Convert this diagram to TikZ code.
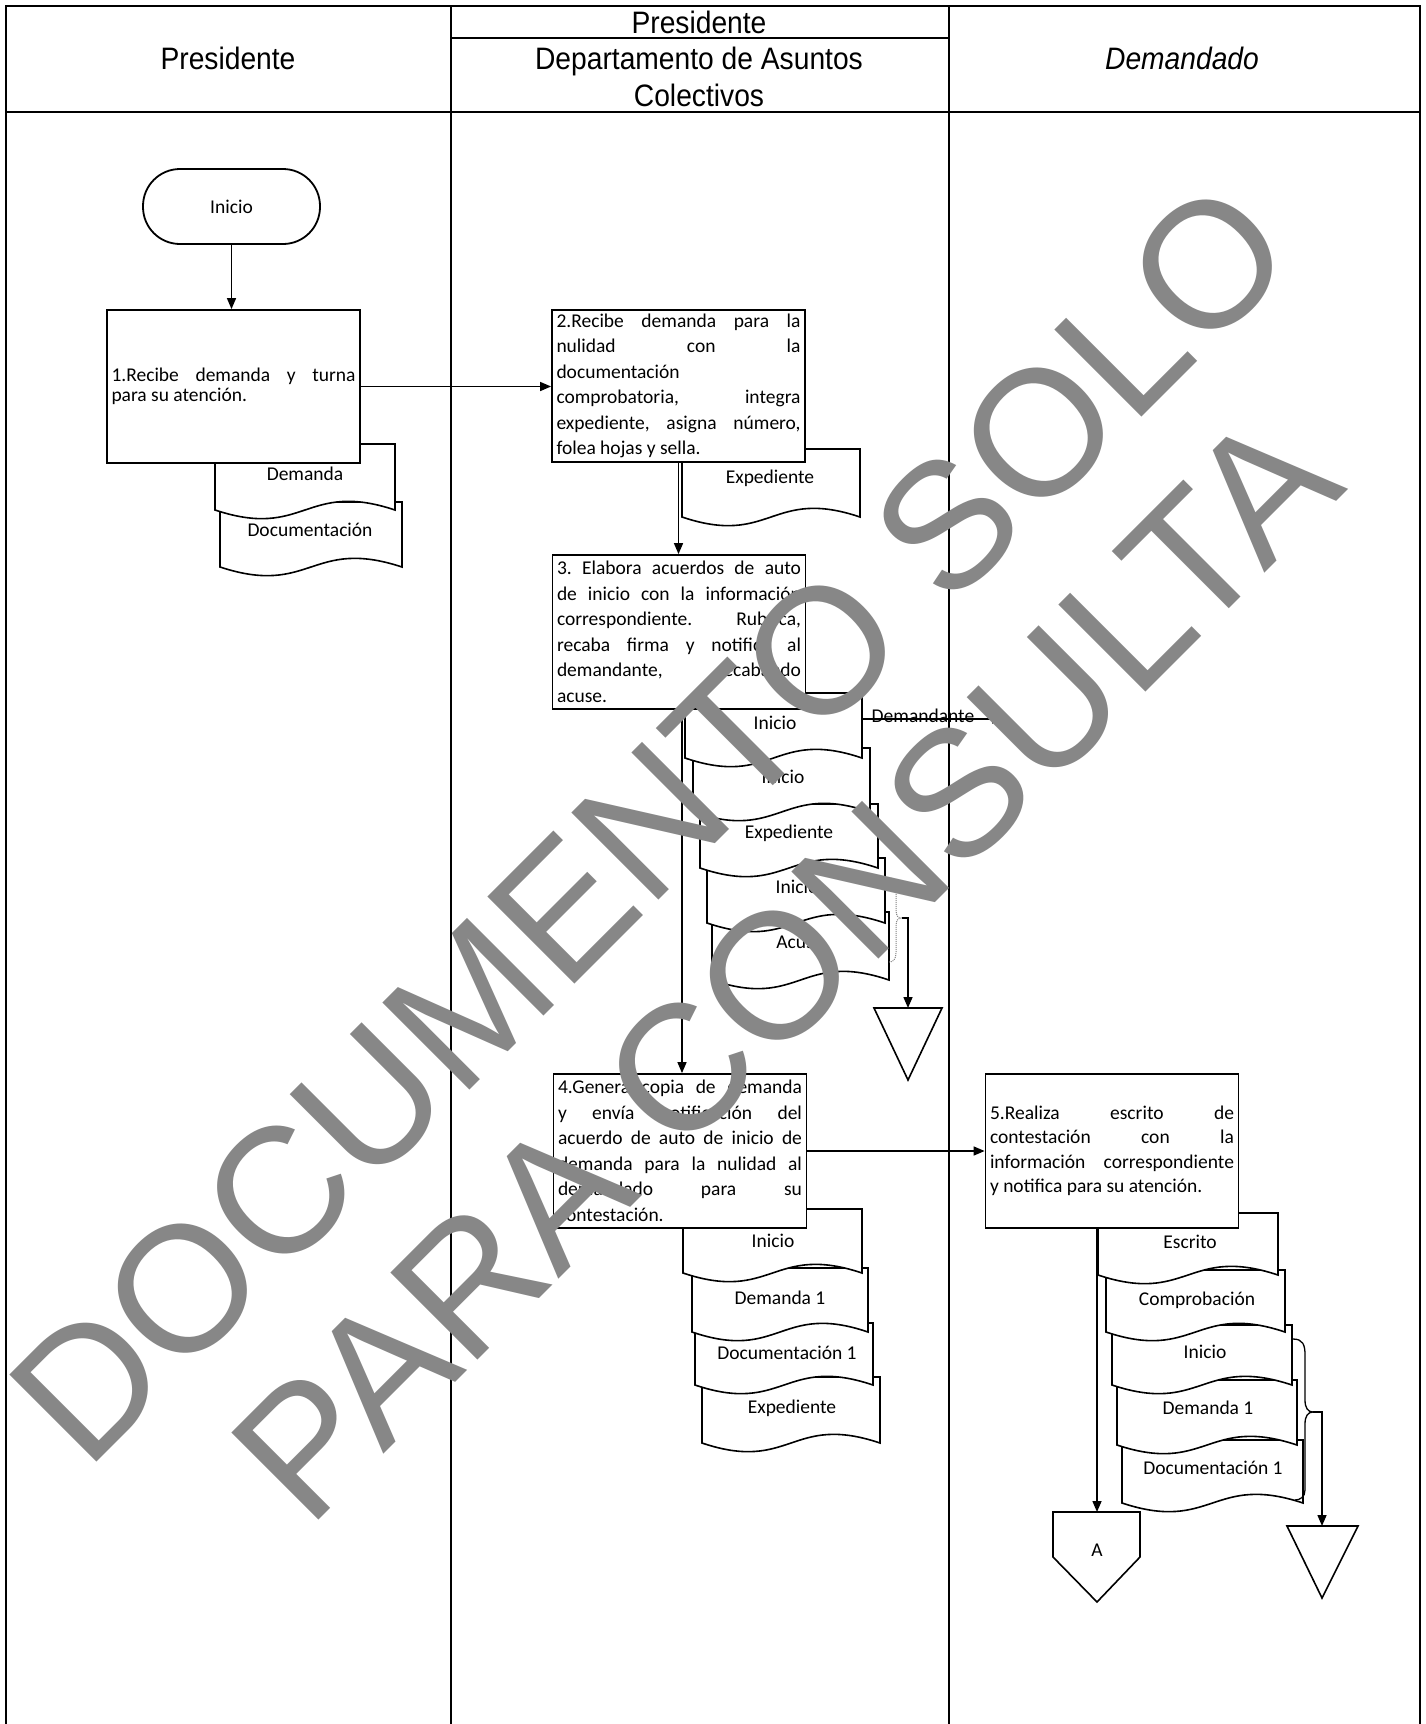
\documentclass[tikz,border=0pt]{standalone}
\usepackage{fontspec}
\setmainfont{Carlito}
\newfontfamily\hdfont{Liberation Sans}[FakeStretch=0.91]
\newfontfamily\wmfont{Liberation Sans}
\usetikzlibrary{arrows.meta}
\definecolor{wm}{RGB}{135,135,135}
\newcommand\jl[1]{\makebox[244pt][s]{\frenchspacing\spaceskip=\fontdimen2\font plus 30em\relax #1}}
\newcommand\lft[1]{\makebox[244pt][l]{\frenchspacing\spaceskip=\fontdimen2\font\relax #1}}
\tikzset{
  lane/.style={line width=1.3pt},
  proc/.style={draw, line width=1.8pt, fill=white, inner sep=0pt, minimum width=253pt,
    align=left, minimum height=153pt, font=\fontsize{19.5}{25.5}\selectfont},
  docsh/.style={draw, line width=1.6pt, fill=white},
  lbl/.style={font=\fontsize{19.5}{23}\selectfont, inner sep=0pt},
  flow/.style={line width=1.5pt, -{Triangle[length=11pt,width=9pt]}},
  hd/.style={font=\hdfont\fontsize{31}{37}\selectfont, align=center, inner sep=0pt},
  wmtext/.style={rotate=45, text=wm, font=\wmfont\fontsize{179}{179}\selectfont, inner sep=0pt},
}
% document shape: left, top, right, bottom
\newcommand\docpath[4]{%
  \draw[docsh] (#1,#2) -- (#3,#2) -- (#3,#4)
    .. controls ({(#1+#3)/2},{#4-30}) and ({(#1+#3)/2},{#4+30}) .. (#1,#4) -- cycle;}
\begin{document}
\begin{tikzpicture}[x=1pt,y=-1pt]
\fill[white] (0,0) rectangle (1426,1724);
\useasboundingbox (0,0) rectangle (1426,1724);

% swimlanes
\draw[lane] (6,1724) -- (6,6) -- (1420,6) -- (1420,1724);
\draw[lane] (451,6) -- (451,1724);
\draw[lane] (949,6) -- (949,1724);
\draw[lane] (6,112) -- (1420,112);
\draw[lane] (451,38) -- (949,38);
\node[hd] (h1) at (228,58) {Presidente};
\node[hd] (h2) at (699,22) {Presidente};
\node[hd] (h3) at (699,77) {Departamento de Asuntos\\Colectivos};
\node[hd, font=\hdfont\itshape\fontsize{31}{37}\selectfont] (h4) at (1182,58) {Demandado};

% documents (drawn from last to first so earlier ones lie on top)
\docpath{220}{502}{402}{567}
\node[lbl] (dl2) at (310,530) {Documentación};
\docpath{215}{444}{395}{510}
\node[lbl] (dl1) at (305,474) {Demanda};

\docpath{682}{449}{860}{517}
\node[lbl] (de1) at (770,478) {Expediente};

\docpath{712}{912}{889}{980}
\node[lbl] (m5) at (800,942) {Acuse};
\docpath{707}{858}{885}{923}
\node[lbl] (m4) at (797,887) {Inicio};
\docpath{700}{804}{878}{868}
\node[lbl] (m3) at (789,833) {Expediente};
\docpath{693}{748}{870}{812}
\node[lbl] (m2) at (783,777) {Inicio};
\docpath{685}{693}{862}{758}
\node[lbl] (m1) at (775,723) {Inicio};

\docpath{702}{1377}{880}{1443}
\node[lbl] (n4) at (792,1408) {Expediente};
\docpath{695}{1323}{873}{1385}
\node[lbl] (n3) at (787,1353) {Documentación 1};
\docpath{692}{1268}{868}{1332}
\node[lbl] (n2) at (780,1298) {Demanda 1};
\docpath{683}{1209}{862}{1273}
\node[lbl] (n1) at (773,1241) {Inicio};

\docpath{1122}{1440}{1303}{1503}
\node[lbl] (r5) at (1213,1468) {Documentación 1};
\docpath{1117}{1380}{1297}{1445}
\node[lbl] (r4) at (1208,1408) {Demanda 1};
\docpath{1112}{1325}{1292}{1385}
\node[lbl] (r3) at (1205,1352) {Inicio};
\docpath{1106}{1270}{1285}{1332}
\node[lbl] (r2) at (1197,1300) {Comprobación};
\docpath{1098}{1213}{1278}{1275}
\node[lbl] (r1) at (1190,1242) {Escrito};

% start
\node[draw, line width=1.8pt, fill=white, rounded corners=37pt, minimum width=177pt,
  minimum height=75pt, font=\fontsize{19.5}{23}\selectfont] (start) at (231.5,206.5) {Inicio};

% process boxes
\node[proc, font=\fontsize{19.5}{19.5}\selectfont] (b1) at (233.5,386.5)
  {\jl{1.Recibe demanda y turna}\\\lft{para su atención.}};
\node[proc, minimum height=152pt] (b2) at (678.5,386)
  {\jl{2.Recibe demanda para la}\\\jl{nulidad con la}\\\lft{documentación}\\\jl{comprobatoria, integra}\\\jl{expediente, asigna número,}\\\lft{folea hojas y sella.}};
\node[proc, minimum height=154pt] (b3) at (679,632)
  {\jl{3. Elabora acuerdos de auto}\\\jl{de inicio con la información}\\\jl{correspondiente. Rubrica,}\\\jl{recaba firma y notifica al}\\\jl{demandante, recabando}\\\lft{acuse.}};
\node[proc, minimum height=154pt] (b4) at (680,1151)
  {\jl{4.Genera copia de demanda}\\\jl{y envía notificación del}\\\jl{acuerdo de auto de inicio de}\\\jl{demanda para la nulidad al}\\\jl{demandado para su}\\\lft{contestación.}};
\node[proc, minimum height=154pt, font=\fontsize{19.5}{24.5}\selectfont] (b5) at (1112,1151)
  {\jl{5.Realiza escrito de}\\\jl{contestación con la}\\\jl{información correspondiente}\\\lft{y notifica para su atención.}};

% connectors
\draw[flow] (start.south) -- (start.south |- b1.north);
\draw[flow] (b1.east) -- (b1.east -| b2.west);
\draw[flow] (b2.south) -- (b2.south |- b3.north);
\draw[flow] ([xshift=3pt]b3.south) -- ([xshift=3pt]b3.south |- b4.north);
\draw[flow] (b4.east) -- (b4.east -| b5.west);
\coordinate (m1r) at (862,719);
\coordinate (demEnd) at (1003,719);
\draw[flow] (m1r) -- (demEnd);
\node[lbl, anchor=base] (demLbl) at (923,722) {Demandante};

% pentagon A
\coordinate (pAtop) at (1097,1512);
\draw[line width=1.6pt, fill=white] (1053,1512) -- (1140,1512) -- (1140,1557) -- (1097,1602) -- (1053,1557) -- cycle;
\node[lbl] (pA) at (1097,1550) {A};
\draw[flow] (b5.south -| pAtop) -- (pAtop);

% middle brace and archive triangle
\draw[gray, densely dotted, line width=1pt] (889,878) .. controls (896,878) and (896,884) .. (896,892)
  -- (896,910) .. controls (896,916) and (898,918) .. (902,918)
  .. controls (898,918) and (896,920) .. (896,926) -- (896,952)
  .. controls (896,960) and (893,962) .. (889,962);
\coordinate (brM) at (902,918);
\coordinate (trMtop) at (908,1008);
\draw[flow] (brM) -| (trMtop);
\draw[line width=1.6pt, fill=white] (874,1008) -- (942,1008) -- (908,1080) -- cycle;

% right brace and archive triangle
\draw[line width=1.3pt] (1293,1339) .. controls (1303,1339) and (1305,1345) .. (1305,1355)
  -- (1305,1400) .. controls (1305,1408) and (1308,1412) .. (1313,1412)
  .. controls (1308,1412) and (1305,1416) .. (1305,1424) -- (1305,1490)
  .. controls (1305,1497) and (1300,1500) .. (1295,1500);
\coordinate (brR) at (1313,1412);
\coordinate (trRtop) at (1322,1526);
\draw[flow] (brR) -| (trRtop);
\draw[line width=1.6pt, fill=white] (1287,1526) -- (1358,1526) -- (1322,1598) -- cycle;

% watermark
\node[wmtext] (wm1) at (650,822) {DOCUMENTO SOLO};
\node[wmtext] (wm2) at (785,966) {PARA CONSULTA};
\end{tikzpicture}
\end{document}
